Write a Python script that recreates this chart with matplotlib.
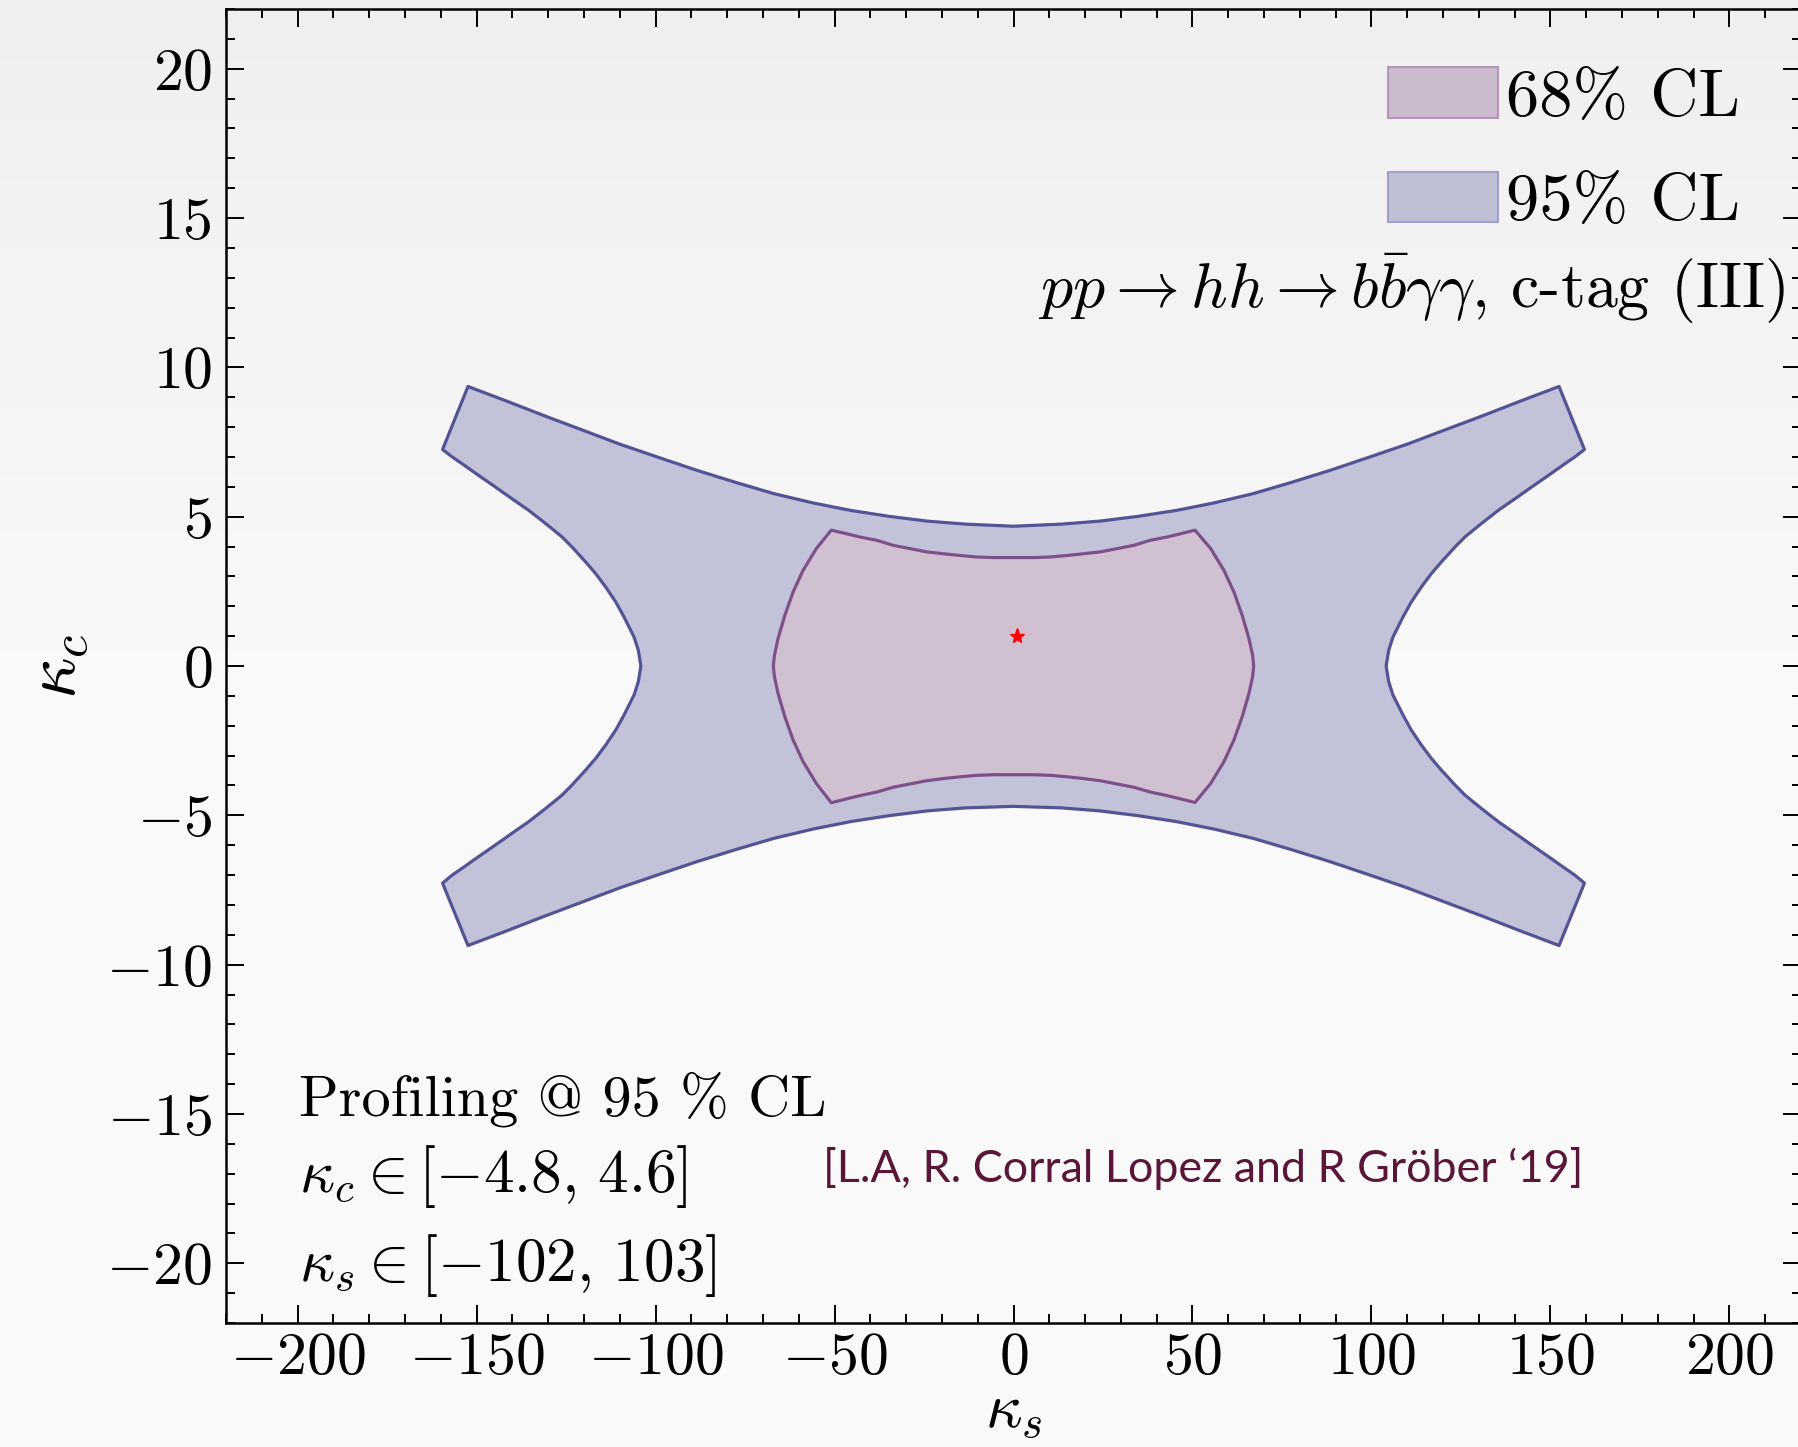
import matplotlib
matplotlib.use('Agg')
import matplotlib.pyplot as plt
from matplotlib.patches import Patch
from matplotlib.ticker import MultipleLocator
import numpy as np

# 95% CL region: upper/lower edges share the kappa_s grid,
# the left/right inner edges share the kappa_c grid
cl95_edge_ks = [-152.4, -141.6, -131.3, -120.2, -109.8, -98.8, -88.4, -77.4, -66.9, -56.0, -45.5, -34.7, -24.0,
                -13.3, 0.0, 13.3, 24.0, 34.7, 45.5, 56.0, 66.9, 77.4, 88.4, 98.8, 109.8, 120.2, 131.3, 141.6, 152.4]
cl95_top_kc = [9.36, 8.87, 8.39, 7.89, 7.42, 6.97, 6.55, 6.14, 5.77, 5.46, 5.21, 5.01, 4.85,
               4.75, 4.68, 4.75, 4.85, 5.01, 5.21, 5.46, 5.77, 6.14, 6.55, 6.97, 7.42, 7.89, 8.39, 8.87, 9.36]
cl95_bot_kc = [-9.36, -8.87, -8.39, -7.89, -7.42, -6.97, -6.55, -6.14, -5.77, -5.46, -5.21, -5.01, -4.85,
               -4.75, -4.70, -4.75, -4.85, -5.01, -5.21, -5.46, -5.77, -6.14, -6.55, -6.97, -7.42, -7.89, -8.39, -8.87, -9.36]
cl95_inner_kc = [7.25, 7.0, 6.77, 6.38, 5.99, 5.60, 5.21, 4.77, 4.32, 3.98, 3.48, 3.09, 2.64, 2.14, 1.64, 0.97, 0.52,
                 0.0, -0.52, -0.97, -1.64, -2.14, -2.64, -3.09, -3.48, -3.98, -4.32, -4.77, -5.21, -5.60, -5.99,
                 -6.38, -6.77, -7.0, -7.27]
cl95_right_ks = [159.5, 156.8, 154.0, 149.4, 144.7, 140.1, 135.4, 130.7, 126.1, 123.3, 119.5, 116.7, 113.9, 111.1,
                 108.8, 106.0, 104.8, 104.1, 104.8, 106.0, 108.8, 111.1, 113.9, 116.7, 119.5, 123.3, 126.1, 130.7,
                 135.4, 140.1, 144.7, 149.4, 154.0, 156.8, 159.5]
cl95_left_ks = [-159.5, -156.8, -154.0, -149.4, -144.7, -140.1, -135.4, -130.7, -126.1, -123.3, -119.5, -116.7,
                -113.9, -111.1, -108.8, -106.0, -104.8, -104.1, -104.8, -106.0, -108.8, -111.1, -113.9, -116.7,
                -119.5, -123.3, -126.1, -130.7, -135.4, -140.1, -144.7, -149.4, -154.0, -156.8, -159.5]

# 68% CL region, same layout
cl68_edge_ks = [-50.9, -46.7, -42.9, -38.2, -33.6, -28.9, -24.2, -19.6, -14.9, -10.3, -5.6, 0.0,
                5.6, 10.3, 14.9, 19.6, 24.2, 28.9, 33.6, 38.2, 42.9, 46.7, 50.7]
cl68_top_kc = [4.55, 4.43, 4.32, 4.21, 4.04, 3.93, 3.82, 3.76, 3.70, 3.65, 3.63, 3.63,
               3.63, 3.65, 3.70, 3.76, 3.82, 3.93, 4.04, 4.21, 4.32, 4.43, 4.55]
cl68_bot_kc = [-4.58, -4.45, -4.34, -4.22, -4.06, -3.95, -3.84, -3.77, -3.71, -3.66, -3.64, -3.64,
               -3.64, -3.66, -3.71, -3.77, -3.84, -3.95, -4.06, -4.22, -4.34, -4.45, -4.57]
cl68_side_kc = [3.93, 3.20, 2.47, 1.69, 0.91, 0.35, 0.0, -0.35, -0.91, -1.69, -2.47, -3.20, -3.93]
cl68_right_ks = [55.1, 58.8, 61.6, 63.9, 65.8, 66.8, 67.1, 66.8, 65.8, 63.9, 61.6, 58.8, 55.1]
cl68_left_ks = [-55.1, -58.8, -61.6, -63.9, -65.8, -66.8, -67.1, -66.8, -65.8, -63.9, -61.6, -58.8, -55.1]

best_fit = (1.0, 1.0)
kc_range = (-4.8, 4.6)
ks_range = (-102, 103)


def outline(edge_x, top_y, bot_y, side_y, right_x, left_x):
    # walk clockwise: top edge, right side down, bottom edge back, left side up
    xs = list(edge_x) + list(right_x) + list(edge_x)[::-1] + list(left_x)[::-1]
    ys = list(top_y) + list(side_y) + list(bot_y)[::-1] + list(side_y)[::-1]
    return xs, ys


plt.rcParams['font.family'] = ['cmr10', 'DejaVu Serif']
plt.rcParams['mathtext.fontset'] = 'cm'
plt.rcParams['axes.formatter.use_mathtext'] = True
plt.rcParams['axes.unicode_minus'] = True

fig = plt.figure(figsize=(17.99, 14.47), dpi=100)

# soft vertical background shading
bg = fig.add_axes([0, 0, 1, 1], zorder=-10)
top_c = np.array([241, 238, 240]) / 255
bot_c = np.array([249, 249, 249]) / 255
t = np.clip(np.linspace(0, 1, 256) / 0.45, 0, 1)[:, None]
grad = top_c[None, :] * (1 - t) + bot_c[None, :] * t
bg.imshow(grad[:, None, :], aspect='auto', extent=[0, 1, 0, 1])
bg.axis('off')

ax = fig.add_axes([0.12563, 0.08569, 0.87549, 0.90809])
ax.patch.set_alpha(0)

x95, y95 = outline(cl95_edge_ks, cl95_top_kc, cl95_bot_kc, cl95_inner_kc, cl95_right_ks, cl95_left_ks)
x68, y68 = outline(cl68_edge_ks, cl68_top_kc, cl68_bot_kc, cl68_side_kc, cl68_right_ks, cl68_left_ks)
ax.fill(x95, y95, facecolor='#c2c3d9', edgecolor='#525496', linewidth=2.3, joinstyle='round', zorder=2)
ax.fill(x68, y68, facecolor='#d1c0d2', edgecolor='#7d5087', linewidth=2.3, joinstyle='round', zorder=3)
ax.plot(*best_fit, marker='*', color='red', markersize=11, linestyle='none', zorder=4)

ax.set_xlim(-220, 220)
ax.set_ylim(-22, 22)
ax.xaxis.set_major_locator(MultipleLocator(50))
ax.xaxis.set_minor_locator(MultipleLocator(10))
ax.yaxis.set_major_locator(MultipleLocator(5))
ax.yaxis.set_minor_locator(MultipleLocator(1))
ax.tick_params(which='both', direction='in', top=True, right=True, width=1.4, labelsize=43)
ax.tick_params(which='major', length=13)
ax.tick_params(axis='x', which='major', pad=7)
ax.tick_params(axis='y', which='major', pad=10)
ax.tick_params(which='minor', length=6.5)
for s in ax.spines.values():
    s.set_linewidth(1.8)

ax.set_xlabel(r'$\kappa_s$', fontsize=46, labelpad=-2)
ax.set_ylabel(r'$\kappa_c$', fontsize=52, labelpad=11)

handles = [Patch(facecolor='#cbb9cd', edgecolor='#b496b9', linewidth=1.5, label='68% CL'),
           Patch(facecolor='#bfbfd6', edgecolor='#a0a0cd', linewidth=1.5, label='95% CL')]
ax.legend(handles=handles, loc='upper right', bbox_to_anchor=(0.991, 0.991), frameon=False,
          fontsize=48, handlelength=1.65, handleheight=0.78, handletextpad=0.12, labelspacing=0.65,
          borderpad=0.2)

ax.text(215.5, 11.98, r'$pp \rightarrow hh \rightarrow b\bar{b}\gamma\gamma$, c-tag (III)',
        fontsize=46, ha='right', va='baseline')

ax.text(-199.6, -15.05, 'Profiling @ 95 % CL', fontsize=42, ha='left', va='baseline')
ax.text(-199.6, -17.62, r'$\kappa_c \in [%g,\, %g]$' % kc_range, fontsize=44, ha='left', va='baseline')
ax.text(-199.6, -20.58, r'$\kappa_s \in [%g,\, %g]$' % ks_range, fontsize=44, ha='left', va='baseline')

ax.text(-53.2, -17.28, "[L.A, R. Corral Lopez and R Gröber \u201819]", fontsize=32.3,
        family=['Liberation Sans Narrow', 'Lato'], color='#5a1538', ha='left', va='baseline')

fig.savefig('out.png', dpi=100)
